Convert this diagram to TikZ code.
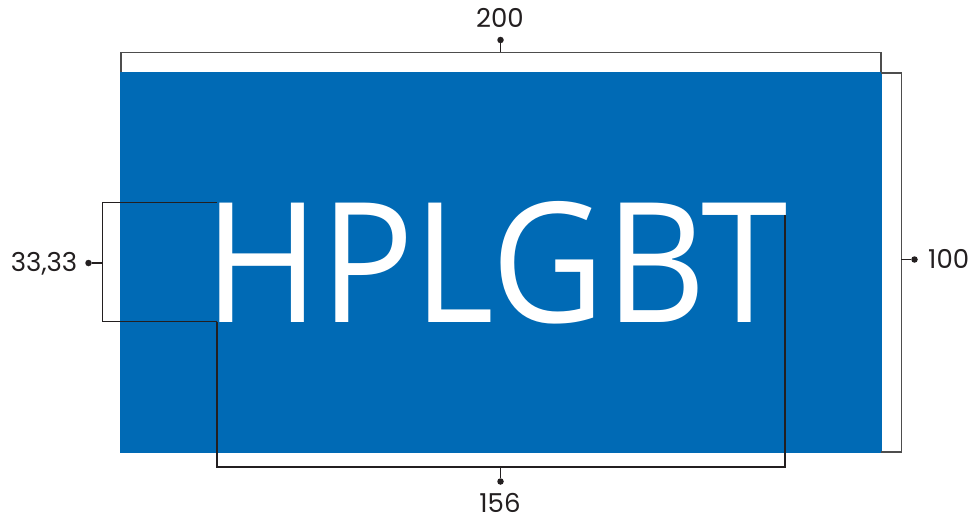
\documentclass[tikz,border=0pt]{standalone}
\usepackage{fontspec}
\setmainfont{Poppins}
\newfontfamily\bigfont{Open Sans}
\definecolor{logoblue}{RGB}{0,106,181}
\definecolor{dimgray}{RGB}{77,77,77}
\definecolor{inkblack}{RGB}{35,31,32}
\tikzset{
  dimdot/.style={circle,fill=inkblack,inner sep=0pt,minimum size=6.5pt},
  dimlabel/.style={text=inkblack,font=\fontsize{26}{26}\selectfont,inner sep=0pt,text depth=0pt},
  graybracket/.style={draw=dimgray,line width=1.6pt},
  blackbracket/.style={draw=inkblack,line width=1.6pt},
}
\begin{document}
\begin{tikzpicture}[x=1pt,y=-1pt]
\useasboundingbox (0,0) rectangle (978,516);
% blue field
\fill[logoblue] (120,72) rectangle (882,453);
% wordmark
\node[inner sep=0pt,anchor=base,text=white] (word) at (496.5,322)
  {\resizebox{583pt}{121pt}{\bigfont HPLGBT}};
% top dimension (200)
\coordinate (tl) at (120.8,72);
\coordinate (tr) at (881.2,72);
\coordinate (tm) at (500.5,52.5);
\draw[graybracket] (tl) |- (tm) -| (tr);
\node[dimdot] (dtop) at (500.5,40) {};
\draw[blackbracket] (dtop) -- (tm);
\node[dimlabel,anchor=base] (l200) at (500,28) {200};
% right dimension (100)
\coordinate (rt) at (881.2,73);
\coordinate (rb) at (881.2,452);
\coordinate (rm) at (901.3,259.5);
\draw[graybracket] (rt) -| (rm) |- (rb);
\node[dimdot] (dright) at (914.5,259.5) {};
\draw[blackbracket] (rm) -- (dright);
\node[dimlabel,anchor=base west] (l100) at (928,268) {100};
% left dimension (33,33)
\coordinate (lt) at (216.7,202.5);
\coordinate (lb) at (216.7,321.5);
\coordinate (lm) at (102.3,263);
\draw[blackbracket] (lt) -| (lm) |- (lb);
\node[dimdot] (dleft) at (88.5,263) {};
\draw[blackbracket] (lm) -- (dleft);
\node[dimlabel,anchor=base east] (l33) at (77.5,271) {33,33};
% bottom dimension (156)
\coordinate (bl) at (216.7,321.5);
\coordinate (br) at (785,215);
\coordinate (bm) at (500.5,467);
\draw[blackbracket] (bl) |- (bm) -| (br);
\node[dimdot] (dbot) at (500.5,481.5) {};
\draw[blackbracket] (bm) -- (dbot);
\node[dimlabel,anchor=base] (l156) at (500,512) {156};
\end{tikzpicture}
\end{document}
